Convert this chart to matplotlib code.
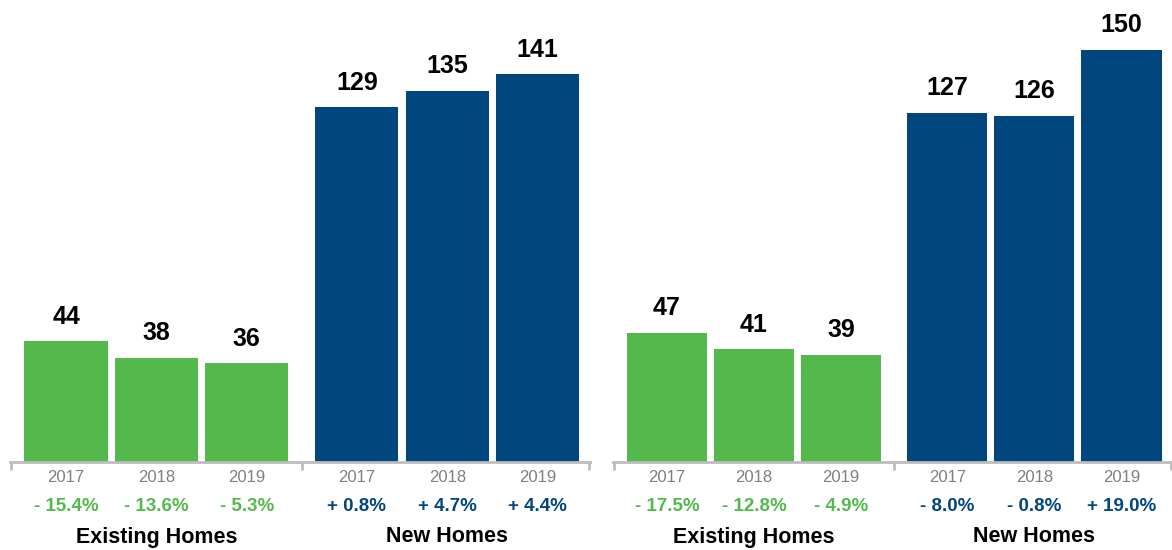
import matplotlib.pyplot as plt

plt.rcParams['font.family'] = ['Liberation Sans', 'DejaVu Sans']

years = ["2017", "2018", "2019"]
groups = ["Existing Homes", "New Homes"]

# two panels: existing homes, then new homes values
left_existing = [44, 38, 36]
left_new = [129, 135, 141]
left_existing_chg = ["- 15.4%", "- 13.6%", "- 5.3%"]
left_new_chg = ["+ 0.8%", "+ 4.7%", "+ 4.4%"]

right_existing = [47, 41, 39]
right_new = [127, 126, 150]
right_existing_chg = ["- 17.5%", "- 12.8%", "- 4.9%"]
right_new_chg = ["- 8.0%", "- 0.8%", "+ 19.0%"]

GREEN = "#53b94b"
BLUE = "#02467f"
GRAY = "#bdbdbd"

fig = plt.figure(figsize=(11.72, 5.5), dpi=100)
W, H = 1172, 550
bottom = (550 - 462) / H
ax1 = fig.add_axes([10 / W, bottom, 580 / W, 462 / H])
ax2 = fig.add_axes([613 / W, bottom, 559 / W, 462 / H])

gap = 3.22
pos_e = [0, 1, 2]
pos_n = [p + gap for p in pos_e]
xmin, xmax = -0.62, 5.8


def panel(ax, ex, nw, ex_chg, nw_chg):
    ax.bar(pos_e, ex, width=0.92, color=GREEN)
    ax.bar(pos_n, nw, width=0.92, color=BLUE)
    ax.set_xlim(xmin, xmax)
    ax.set_ylim(0, 168)
    for s in ["top", "right", "left"]:
        ax.spines[s].set_visible(False)
    ax.spines["bottom"].set_color(GRAY)
    ax.spines["bottom"].set_linewidth(2)
    ax.set_yticks([])
    ax.set_xticks([xmin + 0.01, (2 + pos_n[0]) / 2, xmax - 0.01])
    ax.set_xticklabels([])
    ax.tick_params(axis="x", which="major", length=6, width=2, color=GRAY)
    ax.set_xticks(pos_e + pos_n, minor=True)
    ax.set_xticklabels(years + years, minor=True)
    ax.tick_params(axis="x", which="minor", length=0, pad=6,
                   labelsize=12, labelcolor="#7f7f7f")

    for x, v in zip(pos_e + pos_n, ex + nw):
        ax.annotate(str(v), xy=(x, v), xytext=(0, 9), textcoords="offset points",
                    ha="center", va="bottom", fontsize=18, fontweight="bold")
    for x, t in zip(pos_e, ex_chg):
        ax.annotate(t, xy=(x, 0), xycoords=("data", "axes fraction"),
                    xytext=(0, -32), textcoords="offset points",
                    ha="center", va="center", fontsize=13.5,
                    fontweight="bold", color=GREEN)
    for x, t in zip(pos_n, nw_chg):
        ax.annotate(t, xy=(x, 0), xycoords=("data", "axes fraction"),
                    xytext=(0, -32), textcoords="offset points",
                    ha="center", va="center", fontsize=13.5,
                    fontweight="bold", color=BLUE)
    for x, g in zip([pos_e[1], pos_n[1]], groups):
        ax.annotate(g, xy=(x, 0), xycoords=("data", "axes fraction"),
                    xytext=(0, -54), textcoords="offset points",
                    ha="center", va="center", fontsize=15.5, fontweight="bold")


panel(ax1, left_existing, left_new, left_existing_chg, left_new_chg)
panel(ax2, right_existing, right_new, right_existing_chg, right_new_chg)

fig.savefig("out.png", dpi=100)
